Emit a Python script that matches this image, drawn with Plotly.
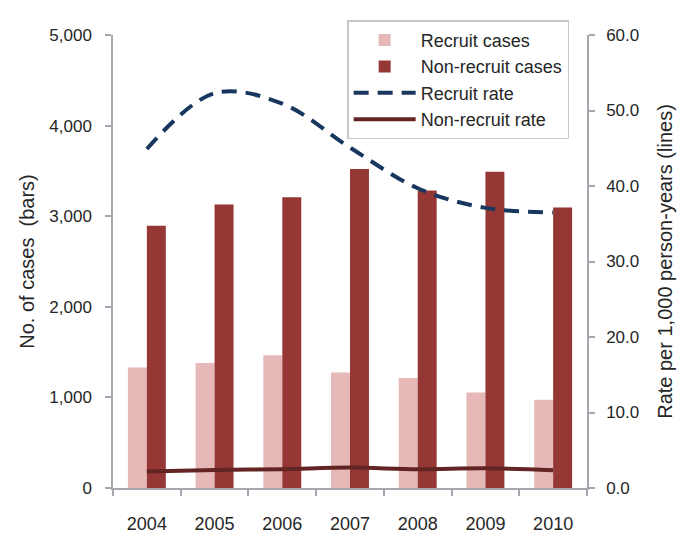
import plotly.graph_objects as go

# dados
anos = ['2004', '2005', '2006', '2007', '2008', '2009', '2010']
casos_recrutas = [1330, 1380, 1465, 1275, 1215, 1055, 975]
casos_nao_recrutas = [2895, 3130, 3210, 3520, 3285, 3490, 3095]
taxa_recrutas = [44.9, 52.3, 50.9, 45.1, 39.7, 37.1, 36.5]
taxa_nao_recrutas = [2.2, 2.4, 2.5, 2.7, 2.5, 2.6, 2.35]

fonte = 'Liberation Sans, Arial, sans-serif'
cinza = '#a6a6ae'

fig = go.Figure()
fig.add_trace(go.Bar(x=anos, y=casos_recrutas, name='Recruit cases',
                     marker=dict(color='#e6b9b8', line=dict(width=0))))
fig.add_trace(go.Bar(x=anos, y=casos_nao_recrutas, name='Non-recruit cases',
                     marker=dict(color='#953735', line=dict(width=0))))
fig.add_trace(go.Scatter(x=anos, y=taxa_recrutas, name='Recruit rate', yaxis='y2',
                         mode='lines', line=dict(color='#17375e', width=4, dash='15px,9px', shape='spline')))
fig.add_trace(go.Scatter(x=anos, y=taxa_nao_recrutas, name='Non-recruit rate', yaxis='y2',
                         mode='lines', line=dict(color='#632523', width=4, shape='spline')))

# margens compensam a margem de 8px do body da página
fig.update_layout(
    width=688, height=533,
    margin=dict(l=105, r=109, t=19, b=53),
    paper_bgcolor='white', plot_bgcolor='white',
    font=dict(family=fonte, size=17, color='#262626'),
    barmode='group', bargap=0.44, bargroupgap=0,
    showlegend=True,
    legend=dict(x=0.494, y=1.0325, xanchor='left', yanchor='top',
                bgcolor='white', bordercolor='#c8c8c8', borderwidth=1.5,
                font=dict(size=18), tracegroupgap=0, itemwidth=62),
    xaxis=dict(showline=True, linecolor=cinza, linewidth=1.5, ticks='outside',
               tickson='boundaries', ticklen=6, tickcolor=cinza, tickwidth=1.5,
               tickfont=dict(size=18), ticklabelstandoff=19, automargin=False),
    yaxis=dict(range=[0, 5000], dtick=1000, tickformat=',', showgrid=False,
               showline=True, linecolor=cinza, linewidth=1.5, ticks='outside',
               ticklen=6, tickcolor=cinza, tickwidth=1.5, zeroline=False,
               ticklabelstandoff=10, automargin=False,
               title=dict(text='No. of cases  (bars)', font=dict(size=20), standoff=9)),
    yaxis2=dict(range=[0, 60], dtick=10, tickformat='.1f', overlaying='y', side='right',
                showgrid=False, showline=True, linecolor=cinza, linewidth=1.5,
                ticks='outside', ticklen=6, tickcolor=cinza, tickwidth=1.5,
                zeroline=False, ticklabelstandoff=8, automargin=False,
                title=dict(text='Rate per 1,000 person-years (lines)', font=dict(size=20), standoff=20)),
)

fig.write_html('out.html')
